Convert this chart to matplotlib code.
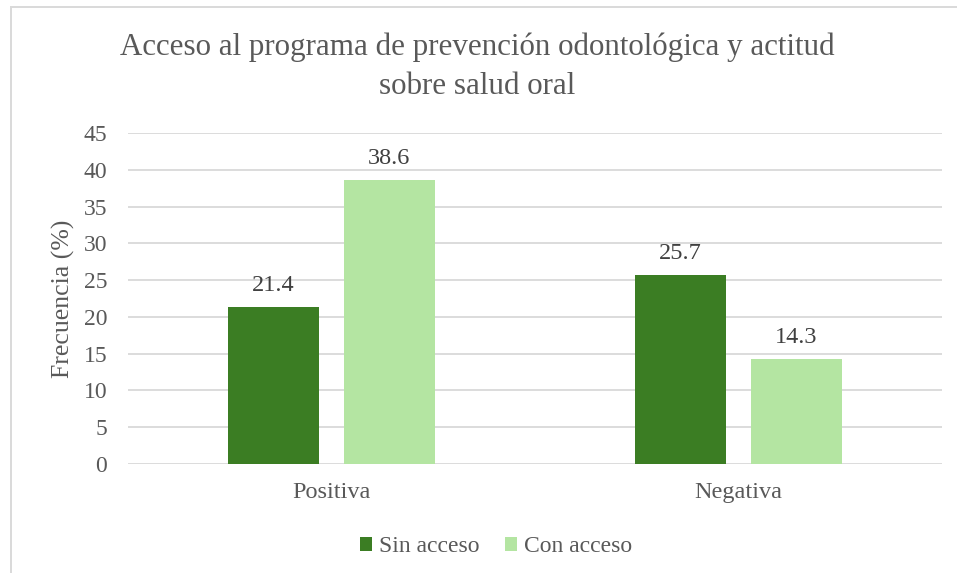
import matplotlib
matplotlib.use("Agg")
import matplotlib.pyplot as plt
from matplotlib.patches import Rectangle
import numpy as np

categories = ["Positiva", "Negativa"]
series_names = ["Sin acceso", "Con acceso"]
sin_acceso = [21.4, 25.7]
con_acceso = [38.6, 14.3]
yticks = [0, 5, 10, 15, 20, 25, 30, 35, 40, 45]
title_lines = ["Acceso al programa de prevención odontológica y actitud", "sobre salud oral"]

dark = "#3B7D23"
light = "#B4E5A2"
txt = "#595959"

plt.rcParams['font.family'] = ['Liberation Serif', 'DejaVu Serif']

W, H = 957, 573
fig = plt.figure(figsize=(W/100, H/100), dpi=100)
fig.patch.set_facecolor("white")
fig.add_artist(Rectangle((10.5/W, -0.2), 1.2, 1.2 - 6.5/H, transform=fig.transFigure,
                         fill=False, edgecolor="#D9D9D9", linewidth=1.4))

left, right, top, bottom = 128, 942, 133, 464
ax = fig.add_axes([left/W, 1 - bottom/H, (right-left)/W, (bottom-top)/H])

x = np.arange(len(categories))
bw = 0.222
off = 0.1425
b1 = ax.bar(x - off, sin_acceso, bw, color=dark, label=series_names[0], zorder=3)
b2 = ax.bar(x + off, con_acceso, bw, color=light, label=series_names[1], zorder=3)
for bars in (b1, b2):
    for r in bars:
        ax.annotate(f"{r.get_height():.1f}", (r.get_x() + r.get_width()/2, r.get_height()),
                    xytext=(0, 11.5), textcoords="offset points", ha="center", va="baseline",
                    fontsize=17.5, color="#404040")

ax.set_xlim(-0.5, 1.5)
ax.set_ylim(0, 45)
ax.set_yticks(yticks)
ax.set_yticklabels([str(v) for v in yticks], fontsize=17, color=txt)
ax.set_xticks(x)
ax.set_xticklabels(categories, fontsize=17.5, color=txt)
ax.tick_params(axis='y', length=0, pad=15)
ax.tick_params(axis='x', length=0, pad=13)
ax.grid(axis='y', color="#D9D9D9", linewidth=1.3, zorder=0)
for s in ax.spines.values():
    s.set_visible(False)
ax.set_ylabel("Frecuencia (%)", fontsize=18.5, color=txt)
ax.yaxis.set_label_coords((75 - left) / (right - left), (bottom - 299) / (bottom - top))

fig.text(477/W, 1 - 47/H, title_lines[0], ha="center", va="center", fontsize=22.3, color=txt)
fig.text(477/W, 1 - 87/H, title_lines[1], ha="center", va="center", fontsize=22.3, color=txt)

fig.legend(handles=[b1, b2], labels=series_names, loc="center", bbox_to_anchor=(496/W, 1 - 547/H),
           ncol=2, frameon=False, fontsize=17, labelcolor=txt, handlelength=0.5, handleheight=0.5,
           handletextpad=0.3, columnspacing=1.1)

fig.savefig("out.png", dpi=100, facecolor="white")
